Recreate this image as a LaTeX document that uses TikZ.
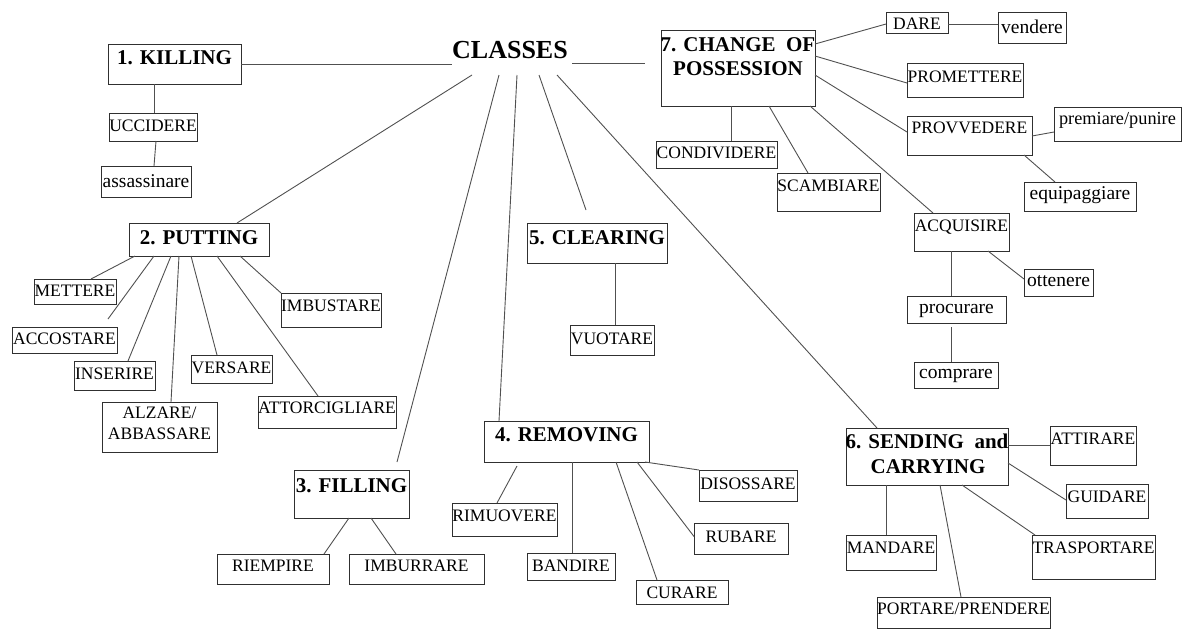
\documentclass[tikz,border=0pt]{standalone}
\usepackage{fontspec}
\setmainfont{Liberation Serif}
\usetikzlibrary{calc}
\definecolor{boxc}{HTML}{303030}
\definecolor{linec}{HTML}{505050}
\tikzset{
 box/.style={draw=boxc, line width=1pt, inner sep=0pt, outer sep=0pt, anchor=north west},
 txt/.style={inner sep=0pt, anchor=base, font=\fontsize{17.5}{20}\selectfont, text=black},
 txtl/.style={inner sep=0pt, anchor=base, font=\fontsize{19.5}{22}\selectfont, text=black},
 txtm/.style={inner sep=0pt, anchor=base, font=\fontsize{18.3}{21}\selectfont, text=black},
 hd/.style={inner sep=0pt, anchor=base, font=\fontsize{21}{24}\selectfont\bfseries, text=black},
 conn/.style={draw=linec, line width=0.9pt},
}
% style, name, x1, y1, x2, y2, baseline, text
\newcommand\bx[8]{%
 \node[box, minimum width={#5-#3}, minimum height={#6-#4}] (#2) at (#3,#4) {};
 \node[#1] (#2t) at ({(#3+#5)/2},#7) {#8};
}
\begin{document}
\begin{tikzpicture}[x=1pt,y=-1pt]
\useasboundingbox (0,0) rectangle (1185,630);
% centre
\node[inner sep=0pt, anchor=base, font=\fontsize{26}{28}\selectfont\bfseries] (classes) at (510,58) {CLASSES};
\coordinate (cL) at (452,64);
\coordinate (cR) at (572,63);
\coordinate (cRe) at (645,63);
\coordinate (f2) at (472,75);
\coordinate (f3) at (499,75);
\coordinate (f4) at (517,75);
\coordinate (f5) at (539,75);
\coordinate (f6) at (557,75);
\coordinate (e3) at (397,462);
\coordinate (e5) at (586,210);
\coordinate (eacc) at (108,319);

% 1 killing
\bx{hd}{kill}{108}{44}{241}{84}{64}{1. KILLING}
\bx{txt}{ucc}{109}{113}{197}{141}{131}{UCCIDERE}
\bx{txtl}{ass}{101}{166}{191}{197}{187}{assassinare}

% 2 putting
\bx{hd}{put}{129}{223}{269}{256}{244}{2. PUTTING}
\bx{txt}{met}{34}{279}{116}{304}{296}{METTERE}
\bx{txt}{acc}{12}{327}{117}{353}{344}{ACCOSTARE}
\bx{txt}{ins}{74}{361}{155}{390}{379}{INSERIRE}
\node[box, minimum width=115, minimum height=50] (alz) at (102,402) {};
\node[txt] (alzt1) at (159.5,418) {ALZARE/};
\node[txt] (alzt2) at (159.5,439) {ABBASSARE};
\bx{txt}{ver}{191}{355}{272}{383}{373}{VERSARE}
\bx{txt}{att}{258}{396}{396}{428}{413}{ATTORCIGLIARE}
\bx{txt}{imb}{281}{293}{381}{327}{311}{IMBUSTARE}

% 3 filling
\bx{hd}{fill}{294}{470}{409}{518}{492}{3. FILLING}
\bx{txt}{rie}{217}{554}{329}{584}{571}{RIEMPIRE}
\bx{txt}{imbu}{349}{554}{484}{584}{571}{IMBURRARE}

% 4 removing
\bx{hd}{rem}{484}{421}{649}{462}{441}{4. REMOVING}
\bx{txt}{rim}{452}{503}{557}{536}{521}{RIMUOVERE}
\bx{txt}{ban}{527}{553}{615}{580}{571}{BANDIRE}
\bx{txt}{cur}{636}{580}{728}{604}{598}{CURARE}
\bx{txt}{rub}{694}{523}{788}{554}{542}{RUBARE}
\bx{txt}{dis}{699}{470}{797}{501}{489}{DISOSSARE}

% 5 clearing
\bx{hd}{clr}{527}{223}{667}{263}{244}{5. CLEARING}
\bx{txt}{vuo}{570}{325}{654}{355}{344}{VUOTARE}

% 6 sending
\node[box, minimum width=162, minimum height=57] (snd) at (846,428) {};
\node[hd] (sndt1) at (927,448) {6. SENDING\ \ and};
\node[hd] (sndt2) at (928,473) {CARRYING};
\bx{txt}{attr}{1050}{426}{1136}{465}{444}{ATTIRARE}
\bx{txt}{gui}{1066}{484}{1148}{518}{502}{GUIDARE}
\bx{txt}{tra}{1032}{535}{1155}{579}{553}{TRASPORTARE}
\bx{txt}{man}{846}{535}{936}{570}{553}{MANDARE}
\bx{txt}{por}{877}{597}{1050}{628}{614}{PORTARE/PRENDERE}

% 7 change of possession
\node[box, minimum width=154, minimum height=76] (chg) at (661,30) {};
\node[hd] (chgt1) at (738,51) {7. CHANGE\ \ OF};
\node[hd] (chgt2) at (738,75) {POSSESSION};
\bx{txt}{con}{656}{141}{777}{168}{158}{CONDIVIDERE}
\bx{txt}{sca}{777}{173}{880}{211}{191}{SCAMBIARE}
\bx{txt}{acq}{914}{213}{1009}{251}{231}{ACQUISIRE}
\bx{txt}{dare}{886}{12}{948}{33}{29}{DARE}
\bx{txtl}{ven}{998}{12}{1066}{43}{33}{vendere}
\bx{txt}{prom}{907}{63}{1023}{97}{82}{PROMETTERE}
\bx{txt}{prov}{907}{116}{1032}{155}{133}{PROVVEDERE}
\bx{txtm}{prem}{1054}{107}{1181}{141}{124}{premiare/punire}
\bx{txtl}{equ}{1024}{182}{1136}{211}{199}{equipaggiare}
\bx{txtl}{ott}{1024}{269}{1093}{296}{286}{ottenere}
\bx{txtl}{proc}{907}{296}{1006}{323}{313}{procurare}
\bx{txtl}{comp}{914}{362}{998}{388}{378}{comprare}

% connectors
\draw[conn] (kill.east) -- (cL);
\draw[conn] (cR) -- (cRe);
\draw[conn] (f2) -- ($(put.north west)+(108,0)$);
\draw[conn] (f3) -- (e3);
\draw[conn] (f4) -- ($(rem.north west)+(15,0)$);
\draw[conn] (f5) -- (e5);
\draw[conn] (f6) -- ($(snd.north west)+(31,0)$);

\draw[conn] ($(kill.south west)+(46,0)$) -- ($(ucc.north west)+(45,0)$);
\draw[conn] ($(ucc.south west)+(47,0)$) -- ($(ass.north west)+(53,0)$);

\draw[conn] ($(put.south west)+(6,0)$) -- ($(met.north west)+(57,0)$);
\draw[conn] ($(put.south west)+(25,0)$) -- (eacc);
\draw[conn] ($(put.south west)+(42,0)$) -- ($(ins.north west)+(54,0)$);
\draw[conn] ($(put.south west)+(50,0)$) -- ($(alz.north west)+(69,0)$);
\draw[conn] ($(put.south west)+(62,0)$) -- ($(ver.north west)+(26,0)$);
\draw[conn] ($(put.south west)+(88,0)$) -- ($(att.north west)+(60,0)$);
\draw[conn] ($(put.south west)+(111,0)$) -- (imb.north west);

\draw[conn] ($(fill.south west)+(55,0)$) -- ($(rie.north west)+(107,0)$);
\draw[conn] ($(fill.south west)+(77,0)$) -- ($(imbu.north west)+(47,0)$);

\draw[conn] ($(rem.south west)+(33,4)$) -- ($(rim.north west)+(45,0)$);
\draw[conn] ($(rem.south west)+(88,0)$) -- ($(ban.north west)+(45,0)$);
\draw[conn] ($(rem.south west)+(132,0)$) -- ($(cur.north west)+(21,0)$);
\draw[conn] ($(rem.south west)+(153,0)$) -- ($(rub.west)+(0,-2)$);
\draw[conn] ($(rem.south east)+(-4,0)$) -- (dis.north west);

\draw[conn] ($(clr.south west)+(88,0)$) -- ($(vuo.north west)+(45,0)$);

\draw[conn] ($(snd.north east)+(0,17.5)$) -- (attr.west);
\draw[conn] ($(snd.north east)+(0,35)$) -- ($(gui.west)+(0,-1)$);
\draw[conn] ($(snd.south west)+(116,0)$) -- ($(tra.north west)+(3,0)$);
\draw[conn] ($(snd.south west)+(40,0)$) -- ($(man.north west)+(40,0)$);
\draw[conn] ($(snd.south west)+(94,0)$) -- ($(por.north west)+(84,0)$);

\draw[conn] ($(chg.south west)+(70,0)$) -- ($(con.north west)+(75,0)$);
\draw[conn] ($(chg.south west)+(108,0)$) -- ($(sca.north west)+(31,0)$);
\draw[conn] ($(chg.south east)+(-5,0)$) -- ($(acq.north west)+(19,0)$);
\draw[conn] ($(chg.north east)+(0,14)$) -- ($(dare.west)+(0,1.5)$);
\draw[conn] ($(dare.east)+(0,1.5)$) -- ($(ven.north west)+(0,12)$);
\draw[conn] ($(chg.north east)+(0,26)$) -- ($(prom.west)+(0,3)$);
\draw[conn] ($(chg.north east)+(0,45)$) -- ($(prov.west)+(0,-3.5)$);
\draw[conn] ($(prov.east)+(0,0.5)$) -- ($(prem.south west)+(0,-9)$);
\draw[conn] ($(prov.south west)+(117,0)$) -- ($(equ.north west)+(31,0)$);
\draw[conn] ($(acq.south west)+(74,0)$) -- ($(ott.west)+(0,-3.5)$);
\draw[conn] ($(acq.south west)+(37,0)$) -- ($(proc.north west)+(44,0)$);
\draw[conn] ($(proc.south west)+(44,4)$) -- ($(comp.north west)+(37,0)$);
\end{tikzpicture}
\end{document}
